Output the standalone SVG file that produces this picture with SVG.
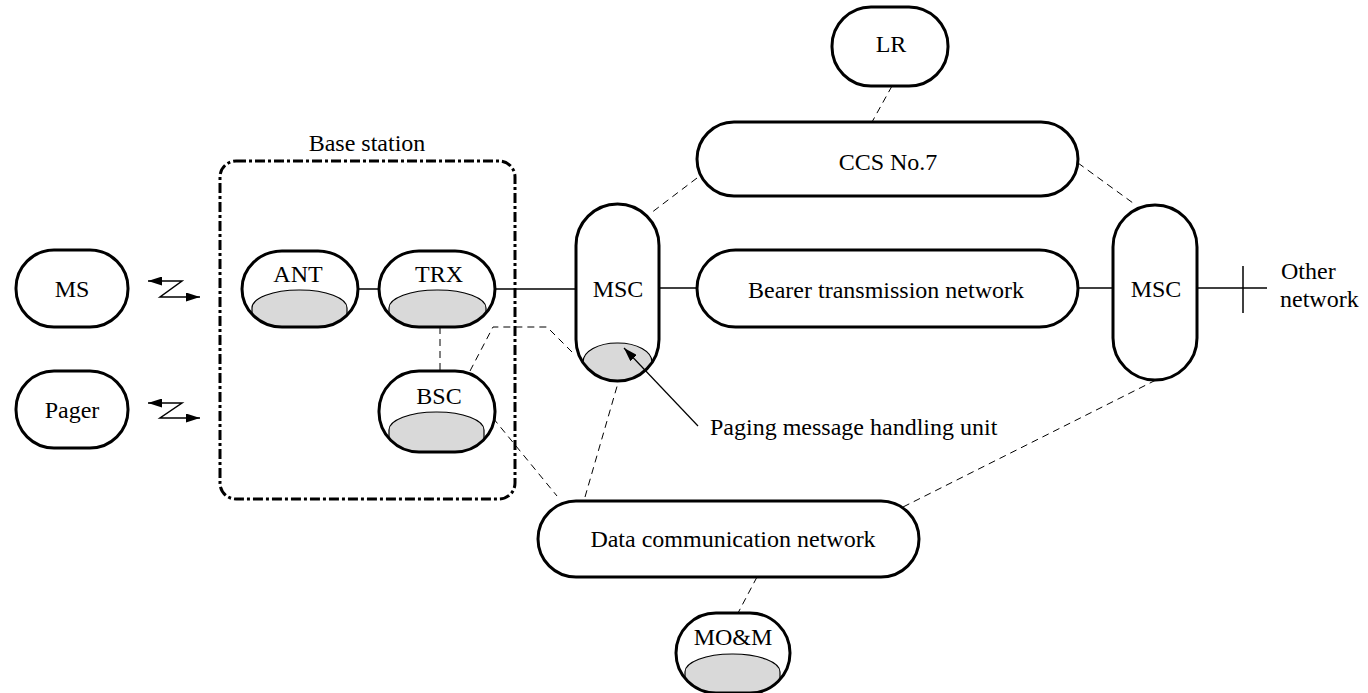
<svg xmlns="http://www.w3.org/2000/svg" width="1368" height="693" viewBox="0 0 1368 693">
<style>
.n{fill:#fff;stroke:#000;stroke-width:3}
.g{fill:#d9d9d9;stroke:#000;stroke-width:1.2}
text{font-family:'Liberation Serif','Times New Roman','DejaVu Serif',serif;font-size:24px;fill:#000}
.t{text-anchor:middle}
.l{text-anchor:start}
.s{stroke:#000;stroke-width:1.5;fill:none}
.d{stroke:#000;stroke-width:1;fill:none;stroke-dasharray:7 5}
</style>
<defs>
<marker id="ah" viewBox="0 0 14 9" refX="14" refY="4.5" markerWidth="14" markerHeight="9" markerUnits="userSpaceOnUse" orient="auto-start-reverse">
<path d="M0,0 L14,4.5 L0,9 Z" fill="#000"/>
</marker>
<clipPath id="cANT"><rect x="242" y="251" width="116" height="76" rx="40" ry="38"/></clipPath>
<clipPath id="cTRX"><rect x="379" y="251" width="116" height="76" rx="40" ry="38"/></clipPath>
<clipPath id="cBSC"><rect x="379" y="371" width="116" height="81" rx="40" ry="40"/></clipPath>
<clipPath id="cMSC1"><rect x="576" y="204" width="83" height="177" rx="41.5" ry="41.5"/></clipPath>
<clipPath id="cMOM"><rect x="676" y="613" width="114" height="80" rx="40" ry="40"/></clipPath>
</defs>

<g id="connectors">
<polyline class="s" points="148,281 182,281 160,297 200,297" marker-start="url(#ah)" marker-end="url(#ah)"/>
<polyline class="s" points="148,403 182,403 160,418 200,418" marker-start="url(#ah)" marker-end="url(#ah)"/>
<line class="s" x1="358" y1="289" x2="379" y2="289"/>
<line class="s" x1="495" y1="289" x2="576" y2="289"/>
<line class="s" x1="659" y1="288" x2="697" y2="288"/>
<line class="s" x1="1078" y1="288" x2="1113" y2="288"/>
<line class="s" x1="1197" y1="288" x2="1267" y2="288"/>
<line class="s" x1="1243" y1="266" x2="1243" y2="313"/>
<line class="d" x1="440" y1="327" x2="440" y2="371"/>
<polyline class="d" points="470,371 493,327 547,327 575,355"/>
<line class="d" x1="493" y1="418" x2="557" y2="496"/>
<line class="d" x1="585" y1="497" x2="618" y2="383"/>
<line class="d" x1="903" y1="507" x2="1158" y2="379"/>
<line class="d" x1="757" y1="577" x2="738" y2="613"/>
<line class="d" x1="892" y1="86" x2="872" y2="122"/>
<line class="d" x1="697" y1="178" x2="651" y2="213"/>
<line class="d" x1="1078" y1="163" x2="1133" y2="203"/>
</g>

<g id="basestation">
<rect x="220" y="161" width="295" height="338" rx="16" fill="none" stroke="#000" stroke-width="3" stroke-dasharray="10 3 3 3"/>
<text class="t" x="367" y="151">Base station</text>
</g>

<g id="ms"><rect class="n" x="16" y="250" width="112" height="77" rx="38"/><text class="t" x="72" y="297">MS</text></g>
<g id="pager"><rect class="n" x="16" y="371" width="112" height="77" rx="38"/><text class="t" x="72" y="418">Pager</text></g>

<g id="ant">
<rect x="242" y="251" width="116" height="76" rx="40" ry="38" fill="#fff"/>
<rect class="g" x="252" y="290" width="95" height="45" rx="47" ry="18" clip-path="url(#cANT)"/>
<rect x="242" y="251" width="116" height="76" rx="40" ry="38" fill="none" stroke="#000" stroke-width="3"/>
<text class="t" x="298" y="282">ANT</text>
</g>
<g id="trx">
<rect x="379" y="251" width="116" height="76" rx="40" ry="38" fill="#fff"/>
<rect class="g" x="389" y="290" width="97" height="45" rx="48" ry="18" clip-path="url(#cTRX)"/>
<rect x="379" y="251" width="116" height="76" rx="40" ry="38" fill="none" stroke="#000" stroke-width="3"/>
<text class="t" x="439" y="282">TRX</text>
</g>
<g id="bsc">
<rect x="379" y="371" width="116" height="81" rx="40" ry="40" fill="#fff"/>
<rect class="g" x="389" y="412" width="95" height="48" rx="47" ry="18" clip-path="url(#cBSC)"/>
<rect x="379" y="371" width="116" height="81" rx="40" ry="40" fill="none" stroke="#000" stroke-width="3"/>
<text class="t" x="439" y="404">BSC</text>
</g>
<g id="msc1">
<rect x="576" y="204" width="83" height="177" rx="41.5" fill="#fff"/>
<rect class="g" x="583" y="343" width="69" height="50" rx="34" ry="19" clip-path="url(#cMSC1)"/>
<rect x="576" y="204" width="83" height="177" rx="41.5" fill="none" stroke="#000" stroke-width="3"/>
<text class="t" x="618" y="297">MSC</text>
</g>
<g id="bearer"><rect class="n" x="697" y="250" width="381" height="77" rx="38.5"/><text class="t" x="886" y="298">Bearer transmission network</text></g>
<g id="ccs"><rect class="n" x="697" y="122" width="381" height="74" rx="37"/><text class="t" x="888" y="170">CCS No.7</text></g>
<g id="lr"><rect class="n" x="832" y="7" width="116" height="79" rx="39"/><text class="t" x="891" y="52">LR</text></g>
<g id="msc2"><rect class="n" x="1113" y="205" width="84" height="175" rx="42"/><text class="t" x="1156" y="297">MSC</text></g>
<g id="other"><text class="l" x="1281" y="279">Other</text><text class="l" x="1280" y="307">network</text></g>
<g id="dcn"><rect class="n" x="538" y="501" width="381" height="76" rx="38"/><text class="t" x="733" y="547">Data communication network</text></g>
<g id="mom">
<rect x="676" y="613" width="114" height="80" rx="40" fill="#fff"/>
<rect class="g" x="685" y="654" width="95" height="48" rx="47" ry="18" clip-path="url(#cMOM)"/>
<rect x="676" y="613" width="114" height="80" rx="40" fill="none" stroke="#000" stroke-width="3"/>
<text class="t" x="733" y="645">MO&amp;M</text>
</g>
<g id="paging-label">
<line x1="698" y1="426" x2="624" y2="348" stroke="#000" stroke-width="1.2" marker-end="url(#ah)"/>
<text class="l" x="710" y="435">Paging message handling unit</text>
</g>
</svg>
